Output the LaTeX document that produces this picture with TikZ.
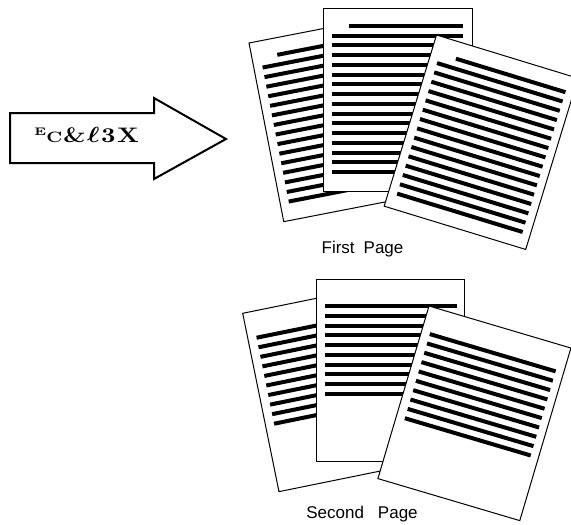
\documentclass[tikz,border=0pt]{standalone}
\usepackage{fontspec}
\usepackage{bm}
\usepackage{graphicx}
\newfontfamily\labelfont{Liberation Sans}
\tikzset{
  pageframe/.style={draw=black, fill=white, line width=0.5pt},
  textline/.style={draw=black, line width=2pt, line cap=butt},
  arrowshape/.style={draw=black, fill=white, line width=1pt, line join=miter},
  caption/.style={font=\labelfont\fontsize{8.5}{9}\selectfont, anchor=base, inner sep=0pt}
}
% #1 x, #2 y, #3 angle, #4 width, #5 height, #6 number of body lines, #7 header (1/0)
\newcommand\docpage[7]{%
  \begin{scope}[shift={(#1,#2)}, rotate=#3]
    \draw[pageframe] (0,0) rectangle (#4,#5);
    \ifnum#7=1 \draw[textline] (25.5,17) -- (140,17);\fi
    \foreach \k in {1,...,#6}{
      \draw[textline] (8.7,{26.7+9.75*(\k-1)}) -- (140,{26.7+9.75*(\k-1)});
    }
  \end{scope}}
\begin{document}
\begin{tikzpicture}[x=0.5pt, y=-0.5pt]
  \useasboundingbox (0,0) rectangle (571,524);
  \clip (0,0) rectangle (571,524);
  \fill[white] (0,0) rectangle (571,524);
  % arrow
  \draw[arrowshape] (10,113) -- (154,113) -- (154,98) -- (226,139) -- (154,179) -- (154,163) -- (10,163) -- cycle;
  \node[anchor=base, inner sep=0pt] (logo) at (86.7,142.5)
    {\scalebox{1.2}[1]{\fontsize{10.5}{11}\selectfont\bfseries
      \raisebox{0.8ex}{\fontsize{5.5}{6}\selectfont E}{\fontsize{7.5}{8}\selectfont C}\kern0.4pt\&\kern0.6pt$\bm{\ell}$\kern0.6pt3\kern0.6pt X}};
  % first page group
  \docpage{249}{43}{11}{149}{182}{15}{1}
  \docpage{323}{9}{0}{149}{182}{15}{1}
  \docpage{436.5}{35}{-17}{148}{179}{15}{1}
  \node[caption] (first) at (362.5,253.5) {First\hspace{4.5pt}Page};
  % second page group
  \docpage{242.7}{313.3}{11.5}{149}{182}{10}{0}
  \docpage{316.7}{279.3}{0}{148}{182}{10}{0}
  \docpage{429}{306}{-16.5}{148}{180}{10}{0}
  \node[caption] (second) at (362,518.3) {Second\hspace{7pt}Page};
\end{tikzpicture}
\end{document}
